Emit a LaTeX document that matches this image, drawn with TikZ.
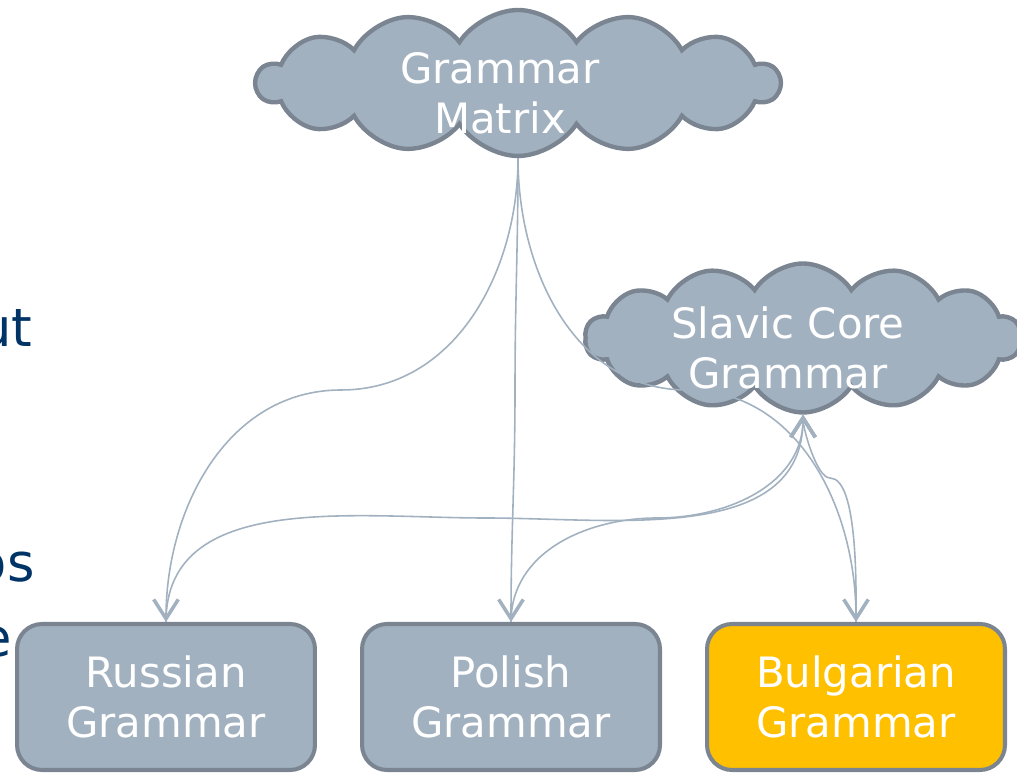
\documentclass[tikz,border=0pt]{standalone}
\usepackage{fontspec}
\setmainfont{DejaVu Sans}
\usepackage{xcolor}
\usetikzlibrary{arrows.meta,shapes.symbols}

\definecolor{grammarfill}{HTML}{A2B1C0}
\definecolor{grammarline}{HTML}{7A8591}
\definecolor{bulgfill}{HTML}{FFC000}
\definecolor{slideblue}{HTML}{003366}

\begin{document}
\begin{tikzpicture}[x=0.02cm,y=0.02cm,
  >={Straight Barb[length=11pt,width=14pt,line width=2pt]},
  grammar/.style={draw=grammarline,line width=2.3pt,fill=grammarfill,rounded corners=0.5cm,
    align=center,text=white,minimum width=5.96cm,minimum height=2.92cm,
    font=\fontsize{23.8}{28.5}\selectfont},
  wolke/.style={cloud,cloud puffs=14,cloud puff arc=115,cloud ignores aspect,draw=grammarline,
    line width=2.5pt,fill=grammarfill,inner sep=0pt},
  wolkentext/.style={align=center,text=white,font=\fontsize{23.8}{28.5}\selectfont},
  conn/.style={->,draw=grammarfill,line width=0.9pt},
  slidetext/.style={text=slideblue,font=\fontsize{30}{36}\selectfont,anchor=base east,inner sep=0pt}]
  \useasboundingbox (0,0) rectangle (1017,773);

  % cut-off words from the slide
  \node[slidetext] (frag1) at (33,426) {ut};
  \node[slidetext] (frag2) at (35,191) {os};
  \node[slidetext] (frag3) at (12,116) {e};

  % grammars
  \node[grammar] (rus) at (166,76) {Russian\\Grammar};
  \node[grammar] (pol) at (511,76) {Polish\\Grammar};
  \node[grammar,fill=bulgfill] (bul) at (856,76) {Bulgarian\\Grammar};

  \node[wolke,minimum width=10.46cm,minimum height=2.92cm] (gm) at (518,690) {};
  \node[wolkentext] (gmtext) at (500,680) {Grammar\\Matrix};
  \node[wolke,minimum width=8.72cm,minimum height=2.98cm] (slav) at (803,435) {};
  \node[wolkentext] (slavtext) at (788,425) {Slavic Core\\Grammar};

  % knees of the curved connectors
  \coordinate (k1) at (341,383);
  \coordinate (k2) at (515,383);
  \coordinate (k3) at (687,383);
  \coordinate (k4) at (485,255);
  \coordinate (k5) at (657,255);
  \coordinate (k6) at (830,295);

  \draw[conn] (gm.-90) to[out=-90,in=0] (k1) to[out=180,in=90] (rus.north);
  \draw[conn] (gm.-90) to[out=-90,in=90] (k2) to[out=-90,in=90] (pol.north);
  \draw[conn] (gm.-90) to[out=-90,in=180] (k3) to[out=0,in=90] (bul.north);
  \draw[conn] (rus.north) to[out=90,in=180] (k4) to[out=0,in=-90] (slav.-90);
  \draw[conn] (pol.north) to[out=90,in=180] (k5) to[out=0,in=-90] (slav.-90);
  \draw[conn,looseness=0.5] (bul.north) to[out=90,in=0] (k6) to[out=180,in=-90] (slav.-90);
\end{tikzpicture}
\end{document}
